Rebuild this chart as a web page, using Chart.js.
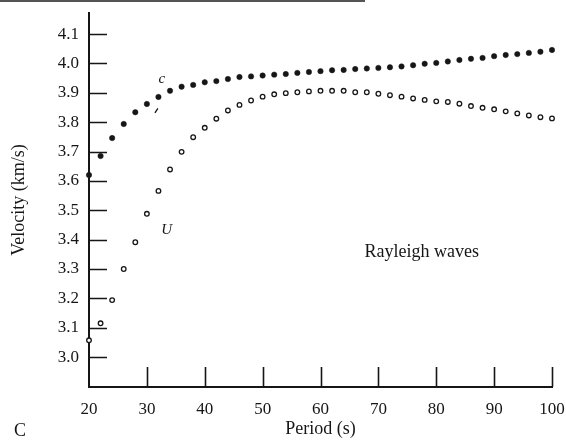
<!DOCTYPE html>
<html>
<head>
<meta charset="utf-8">
<script src="https://cdn.jsdelivr.net/npm/chart.js@4/dist/chart.umd.min.js"></script>
<style>
	html, body { margin: 0; padding: 0; background: #fff; }
	#wrap { width: 566px; height: 446px; }
</style>
</head>
<body>
<div id="wrap"><canvas id="velChart" width="566" height="446"></canvas></div>
<script>
// periods (s) at which both curves are sampled
const periods = [20, 22, 24, 26, 28, 30, 32, 34, 36, 38, 40, 42, 44, 46, 48, 50, 52, 54, 56, 58, 60,
	62, 64, 66, 68, 70, 72, 74, 76, 78, 80, 82, 84, 86, 88, 90, 92, 94, 96, 98, 100];

// c - phase velocity (km/s), filled dots
const phaseVel = [3.62, 3.685, 3.746, 3.794, 3.834, 3.862, 3.886, 3.907, 3.921, 3.927, 3.936, 3.94, 3.947,
	3.954, 3.956, 3.959, 3.962, 3.964, 3.968, 3.971, 3.974, 3.977, 3.978, 3.981, 3.983, 3.985, 3.987,
	3.99, 3.994, 3.999, 4.002, 4.007, 4.012, 4.016, 4.019, 4.025, 4.029, 4.032, 4.036, 4.04, 4.046];

// U - group velocity (km/s), open circles
const groupVel = [3.057, 3.115, 3.194, 3.3, 3.391, 3.488, 3.566, 3.639, 3.699, 3.749, 3.781, 3.812, 3.84,
	3.859, 3.874, 3.887, 3.895, 3.899, 3.902, 3.905, 3.907, 3.907, 3.907, 3.902, 3.902, 3.897, 3.892,
	3.887, 3.881, 3.876, 3.871, 3.869, 3.863, 3.855, 3.849, 3.844, 3.837, 3.83, 3.823, 3.817, 3.813];

const xTicks = [20, 30, 40, 50, 60, 70, 80, 90, 100];
const yTicks = [3.0, 3.1, 3.2, 3.3, 3.4, 3.5, 3.6, 3.7, 3.8, 3.9, 4.0, 4.1];

const ink = "#161616";
const serif = "'Liberation Serif', 'Times New Roman', serif";

function toPoints(ys) {
	return periods.map((p, i) => ({ x: p, y: ys[i] }));
}

// short tick marks pointing into the plot, plus the figure labels
const figureMarks = {
	id: "figureMarks",
	afterDraw(chart) {
		const { ctx, scales } = chart;
		const xs = scales.x;
		const ys = scales.y;
		ctx.save();
		ctx.strokeStyle = ink;
		ctx.lineWidth = 1.6;
		ctx.beginPath();
		yTicks.forEach((v) => {
			const py = Math.round(ys.getPixelForValue(v)) + 0.5;
			ctx.moveTo(xs.left, py);
			ctx.lineTo(xs.left + 18, py);
		});
		xTicks.slice(1).forEach((v) => {
			const px = Math.round(xs.getPixelForValue(v)) + 0.5;
			ctx.moveTo(px, ys.bottom);
			ctx.lineTo(px, ys.bottom - 20);
		});
		ctx.stroke();

		// scan edge at the top of the page
		ctx.strokeStyle = "#555";
		ctx.lineWidth = 2;
		ctx.beginPath();
		ctx.moveTo(0, 1);
		ctx.lineTo(365, 1);
		ctx.stroke();

		// little leader stroke under the c label
		ctx.strokeStyle = ink;
		ctx.lineWidth = 1.3;
		ctx.beginPath();
		ctx.moveTo(xs.getPixelForValue(31.4), ys.getPixelForValue(3.832));
		ctx.lineTo(xs.getPixelForValue(31.9), ys.getPixelForValue(3.847));
		ctx.stroke();

		ctx.fillStyle = ink;
		ctx.textAlign = "center";
		ctx.textBaseline = "middle";
		ctx.font = "18px " + serif;
		ctx.fillText("Rayleigh waves", xs.getPixelForValue(77.5), ys.getPixelForValue(3.358));
		ctx.fillText("C", 20, 431);
		ctx.font = "italic 15px " + serif;
		ctx.fillText("c", xs.getPixelForValue(32.6), ys.getPixelForValue(3.947));
		ctx.fillText("U", xs.getPixelForValue(33.4), ys.getPixelForValue(3.433));
		ctx.restore();
	},
};

const ctx = document.getElementById("velChart").getContext("2d");
const velChart = new Chart(ctx, {
	type: "scatter",
	data: {
		datasets: [
			{
				label: "c",
				data: toPoints(phaseVel),
				pointStyle: "circle",
				pointRadius: 2.7,
				pointBackgroundColor: ink,
				pointBorderColor: ink,
				pointBorderWidth: 0.5,
				clip: false,
			},
			{
				label: "U",
				data: toPoints(groupVel),
				pointStyle: "circle",
				pointRadius: 2.3,
				pointBackgroundColor: "#fff",
				pointBorderColor: ink,
				pointBorderWidth: 1.3,
				clip: false,
			},
		],
	},
	options: {
		responsive: false,
		animation: false,
		layout: {
			padding: { top: 13, right: 14, left: 0, bottom: 0 },
		},
		plugins: {
			legend: { display: false },
			tooltip: { enabled: false },
		},
		scales: {
			x: {
				type: "linear",
				min: 20,
				max: 100,
				afterBuildTicks: (scale) => {
					scale.ticks = xTicks.map((v) => ({ value: v }));
				},
				afterFit: (scale) => {
					scale.height = 59;
					scale.paddingLeft = 0;
					scale.paddingRight = 0;
				},
				grid: { display: false, drawTicks: false },
				border: { display: true, color: ink, width: 2 },
				ticks: {
					color: ink,
					padding: 12,
					maxRotation: 0,
					font: { family: serif, size: 17 },
				},
				title: {
					display: true,
					text: "Period (s)",
					color: ink,
					padding: { top: 0, bottom: 6 },
					font: { family: serif, size: 18 },
				},
			},
			y: {
				type: "linear",
				min: 2.898,
				max: 4.172,
				afterBuildTicks: (scale) => {
					scale.ticks = yTicks.map((v) => ({ value: v }));
				},
				afterFit: (scale) => {
					scale.width = 89;
					scale.paddingTop = 0;
					scale.paddingBottom = 0;
				},
				grid: { display: false, drawTicks: false },
				border: { display: true, color: ink, width: 2 },
				ticks: {
					color: ink,
					padding: 10,
					font: { family: serif, size: 17 },
					callback: (v) => Number(v).toFixed(1),
				},
				title: {
					display: true,
					text: "Velocity (km/s)",
					color: ink,
					padding: { top: 8, bottom: 0 },
					font: { family: serif, size: 18 },
				},
			},
		},
	},
	plugins: [figureMarks],
});
</script>
</body>
</html>
